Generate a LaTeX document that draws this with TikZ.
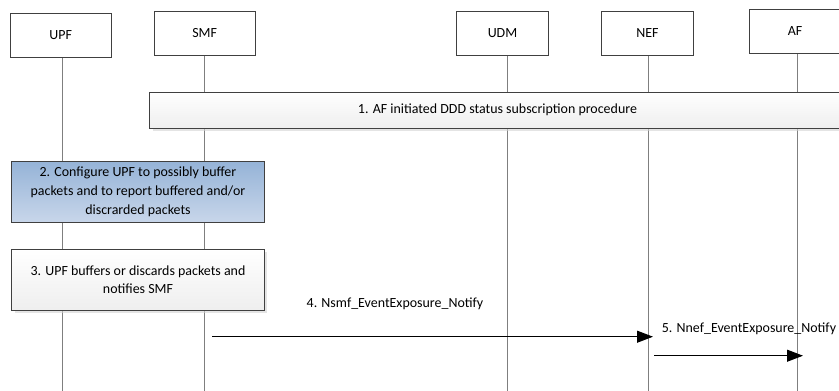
\documentclass[tikz,border=0pt]{standalone}
\usepackage{fontspec}
\setmainfont{Carlito}
\usetikzlibrary{arrows.meta,shadows}
\definecolor{boxline}{HTML}{404040}
\definecolor{lifegray}{HTML}{7F7F7F}
\definecolor{bluetop}{HTML}{95B3D7}
\definecolor{bluebot}{HTML}{C8D6EA}
\tikzset{
  entity/.style={draw=boxline, line width=1bp, fill=white, inner sep=0pt,
    minimum height=44bp, font=\fontsize{14}{17}\selectfont},
  lifeline/.style={draw=lifegray, line width=1.1bp},
  procbox/.style={draw=boxline, line width=1bp, inner sep=0pt, align=center,
    top color=white, bottom color=gray!13,
    drop shadow={shadow xshift=3bp, shadow yshift=-3bp, fill=gray!35, opacity=0.6},
    font=\fontsize{14}{18.5}\selectfont},
  bluebox/.style={draw=boxline, line width=1bp, inner sep=0pt, align=center,
    top color=bluetop, bottom color=bluebot,
    font=\fontsize{14}{19.2}\selectfont},
  msg/.style={draw=black, line width=1bp, -{Triangle[length=16bp,width=12bp]}},
  msglabel/.style={inner sep=0pt, font=\fontsize{14}{17}\selectfont}
}
\begin{document}
\begin{tikzpicture}[x=1bp,y=-1bp]
\useasboundingbox (0,0) rectangle (839,390);
% entities
\node[entity, minimum width=101bp] (upf) at (60.7,35.3) {UPF};
\node[entity, minimum width=101bp] (smf) at (204.7,33) {SMF};
\node[entity, minimum width=91.5bp] (udm) at (502.5,33) {UDM};
\node[entity, minimum width=91.5bp] (nef) at (647.5,33) {NEF};
\node[entity, minimum width=91.5bp] (af) at (795,31.3) {AF};
% lifeline ends
\coordinate (upfB) at (62.3,392);
\coordinate (smfB) at (204.7,392);
\coordinate (udmB) at (507.3,392);
\coordinate (nefB) at (648.3,392);
\coordinate (afB) at (797.3,392);
\draw[lifeline] (upf.south -| upfB) -- (upfB);
\draw[lifeline] (smf.south -| smfB) -- (smfB);
\draw[lifeline] (udm.south -| udmB) -- (udmB);
\draw[lifeline] (nef.south -| nefB) -- (nefB);
\draw[lifeline] (af.south -| afB) -- (afB);
% step boxes
\node[procbox, minimum width=695bp, minimum height=36bp] (s1) at (497.5,110)
  {1. AF initiated DDD status subscription procedure};
\node[bluebox, minimum width=252.6bp, minimum height=61.3bp] (s2) at (138,191.7)
  {2. Configure UPF to possibly buffer\\packets and to report buffered and/or\\discrarded packets};
\node[procbox, minimum width=252.6bp, minimum height=61bp] (s3) at (138,279.5)
  {3. UPF buffers or discards packets and\\notifies SMF};
% messages
\coordinate (m4a) at (212,336.7);
\coordinate (m4b) at (653,336.7);
\coordinate (m5a) at (654.3,355.7);
\coordinate (m5b) at (803,355.7);
\draw[msg] (m4a) -- (m4b);
\draw[msg] (m5a) -- (m5b);
\node[msglabel] (l4) at (395,304) {4. Nsmf\_EventExposure\_Notify};
\node[msglabel] (l5) at (749,329) {5. Nnef\_EventExposure\_Notify};
\end{tikzpicture}
\end{document}
